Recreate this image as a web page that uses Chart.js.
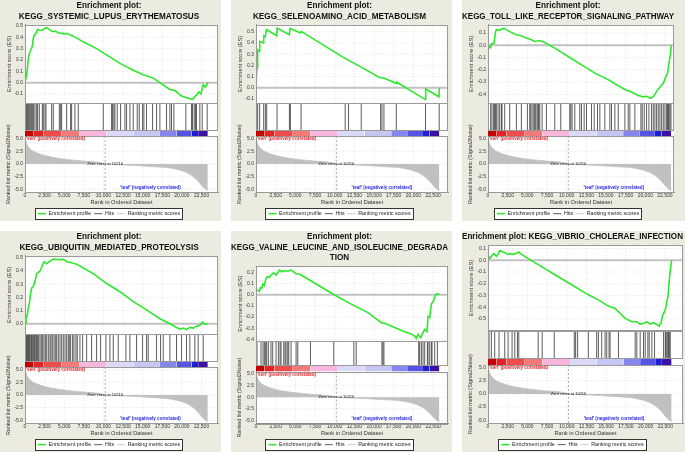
<!DOCTYPE html>
<html><head><meta charset="utf-8">
<script src="https://cdn.jsdelivr.net/npm/chart.js@4.4.1/dist/chart.umd.min.js"></script>
<style>
html,body{margin:0;padding:0;background:#fff;}
body{width:685px;height:452px;position:relative;overflow:hidden;}
.panel{position:absolute;background:#ecebe0;}
canvas{display:block;}
</style></head><body>
<div class="panel" style="left:0px;top:0px;width:221px;height:221px"><canvas id="c1" width="221" height="221"></canvas></div>
<div class="panel" style="left:231px;top:0px;width:221px;height:221px"><canvas id="c2" width="221" height="221"></canvas></div>
<div class="panel" style="left:462px;top:0px;width:223px;height:221px"><canvas id="c3" width="223" height="221"></canvas></div>
<div class="panel" style="left:0px;top:231px;width:221px;height:221px"><canvas id="c4" width="221" height="221"></canvas></div>
<div class="panel" style="left:231px;top:231px;width:221px;height:221px"><canvas id="c5" width="221" height="221"></canvas></div>
<div class="panel" style="left:462px;top:231px;width:223px;height:221px"><canvas id="c6" width="223" height="221"></canvas></div>
<script>
// ---------- shared data ----------
const rankTicks = [0,2500,5000,7500,10000,12500,15000,17500,20000,22500];
const metricTicks = [-5,-2.5,0,2.5,5];
const metricRank  = [0,80,212,400,637,1061,1910,3184,5306,7429,9551,10216,11674,13796,15919,18041,19314,20376,21225,21862,22499,22923,23220,23300];
const metricValue = [5.4,4.7,4.0,3.4,3.0,2.5,1.95,1.4,0.9,0.56,0.28,0,-0.14,-0.28,-0.5,-0.7,-1.05,-1.54,-2.24,-3.08,-4.2,-4.9,-5.2,-5.2];
const barEdges  = [0,1061,2335,4670,6920,10400,13800,17190,19310,21220,22070,23300];
const barColors = ['#c40000','#e42424','#ee4c4c','#f47a7a','#f8b6dc','#dadaf8','#c6c6f4','#8686f0','#5454e4','#1e1ed2','#3a10a6'];
const legendLabels = ['Enrichment profile','Hits','Ranking metric scores'];
const posLabel = "'sen' (positively correlated)";
const negLabel = "'teaf' (negatively correlated)";
const zeroCross = 10216;
const zeroLabel = 'Zero cross at 10216';

// ---------- per-set data ----------
const lupusRank = [0,130,300,420,550,760,930,1060,1190,1400,1610,1910,2250,2550,2760,3180,3520,3820,4240,5090,5300,6150,7430,9130,10400,12100,13800,15070,16340,18460,19100,19950,20800,21350,21860,22160,22410,22710,23000,23300];
const lupusES   = [0.01,0.04,0.12,0.21,0.26,0.29,0.32,0.39,0.42,0.435,0.47,0.46,0.465,0.48,0.485,0.465,0.45,0.455,0.44,0.43,0.435,0.41,0.36,0.30,0.245,0.17,0.11,0.07,0.04,-0.06,-0.07,-0.118,-0.138,-0.147,-0.109,-0.08,-0.10,-0.02,-0.04,0.0];
const lupusHits = [127,212,340,467,552,722,849,976,1104,1273,1486,1613,1825,2207,2335,2547,2674,3396,3608,4372,4542,4669,5306,5816,5943,6367,6792,9976,11037,11164,11334,11461,11759,12183,12735,12947,13372,13796,14306,14560,14985,15155,15494,16258,16768,17192,18041,18466,18678,18975,20504,21225,21353,21565,21735,21862,22287,22584,23221];
const lupusTicks = [-0.1,0,0.1,0.2,0.3,0.4,0.5];

const selenoRank = [0,40,130,210,440,470,960,980,1180,1320,2640,2700,4220,4330,5650,5740,11250,13370,15750,16000,16300,17820,17900,21520,21560,23250,23300];
const selenoES   = [0,0.09,0.18,0.34,0.325,0.415,0.40,0.465,0.455,0.52,0.465,0.535,0.475,0.53,0.49,0.505,0.265,0.185,0.09,0.09,0.085,0.04,0.05,-0.105,-0.01,-0.08,0.0];
const selenoHits = [0,85,212,467,976,1189,1358,2674,4245,4372,5731,11334,11759,13372,15834,16004,16258,17829,21540,23280];
const selenoTicks = [-0.1,0,0.1,0.2,0.3,0.4,0.5];

const tollRank = [0,85,340,425,764,934,1060,1486,1700,2040,2200,2760,3610,4245,4880,5520,5940,6580,7220,8490,10190,11890,13580,15280,16560,17400,18250,19100,19740,20160,20590,21010,21440,21860,22290,22580,22840,23010,23220,23300];
const tollES   = [0,-0.01,-0.02,0.01,0.015,0.1,0.125,0.12,0.13,0.138,0.13,0.11,0.084,0.076,0.057,0.043,0.03,0.038,0.022,-0.024,-0.092,-0.16,-0.227,-0.28,-0.33,-0.36,-0.38,-0.408,-0.42,-0.415,-0.43,-0.42,-0.375,-0.34,-0.31,-0.26,-0.227,-0.146,-0.065,0.0];
const tollHits = [340,509,722,849,934,1061,1274,1486,1698,1783,2123,2759,3608,4245,5009,5306,5434,5603,5816,5943,6070,6240,6368,6452,6580,6877,7429,8490,9254,10400,10528,10697,11037,11674,11886,12226,12523,13160,13499,13924,14221,14858,15494,15707,16131,16556,17405,17829,18041,18678,19442,19612,19867,20164,20461,20801,21013,21225,21437,21650,21862,22074,22286,22499,22711,22838,22923,23008,23135,23263];
const tollTicks = [-0.4,-0.3,-0.2,-0.1,0,0.1];

const ubiqRank = [0,127,297,424,552,722,849,1061,1273,1486,1825,2000,2250,2460,2760,3180,3610,4460,4880,5310,5940,6580,7220,8700,10400,12100,13800,15490,17190,18470,19310,19740,20160,20590,21010,21440,21860,22290,22630,22920,23300];
const ubiqES   = [0,0.04,0.07,0.12,0.155,0.23,0.27,0.285,0.32,0.38,0.395,0.41,0.45,0.47,0.455,0.475,0.49,0.485,0.488,0.47,0.462,0.452,0.43,0.38,0.305,0.243,0.168,0.105,0.038,0.0,-0.028,-0.04,-0.033,-0.045,-0.028,-0.033,-0.018,-0.012,0.012,-0.003,0.0];
const ubiqHits = [127,212,297,382,467,552,637,764,849,934,1061,1189,1274,1401,1486,1613,1740,1910,2080,2250,2420,2589,2759,2972,3184,3311,3481,3693,3863,4033,4245,4457,4669,4882,5094,5306,5519,5646,5816,6070,6240,6495,6665,7004,7344,7853,8490,9127,9636,10315,10825,11249,11886,12862,13372,14221,14985,15494,15707,16768,17277,17617,18466,19315,19952,20588,21013,21649,22074,22711];
const ubiqTicks = [0,0.1,0.2,0.3,0.4,0.5];

const valineRank = [0,127,424,552,722,849,1061,1189,1400,1700,1910,2250,2550,2760,2970,3270,3610,4030,4460,4880,5090,5520,6580,7850,9980,12100,14220,15920,16340,17620,18890,19740,20160,20380,20590,20930,21220,21440,21730,21860,22070,22290,22580,22790,23050,23300];
const valineES   = [0.05,0.045,0.03,0.065,0.057,0.095,0.08,0.125,0.16,0.155,0.176,0.195,0.176,0.195,0.22,0.205,0.215,0.21,0.22,0.2,0.185,0.185,0.14,0.087,-0.003,-0.084,-0.16,-0.25,-0.255,-0.293,-0.33,-0.35,-0.37,-0.39,-0.353,-0.383,-0.338,-0.31,-0.33,-0.195,-0.205,-0.084,-0.054,-0.003,0.01,0.0];
const valineHits = [127,637,891,1061,1231,1358,1571,1910,2123,2547,2844,3056,3184,3523,3693,3821,4033,4160,4457,5094,5306,6919,9891,12438,12735,16004,16131,16258,20673,20801,21013,21225,21437,21777,21862,22074,22286,22371,22711,23050];
const valineTicks = [-0.4,-0.3,-0.2,-0.1,0,0.1,0.2];

const vibrioRank = [0,127,300,425,637,764,1060,1274,1486,1698,2123,2547,2759,3056,3396,3736,3905,4245,6368,8490,10613,12735,14009,15282,16131,17405,18254,18890,19315,19740,20164,20588,21013,21437,21734,21989,22159,22414,22584,22838,23050,23300];
const vibrioES   = [0,0.03,0.02,0.03,0.05,0.057,0.034,0.05,0.083,0.077,0.063,0.05,0.057,0.05,0.054,0.063,0.07,0.05,-0.037,-0.123,-0.208,-0.294,-0.337,-0.39,-0.41,-0.494,-0.523,-0.523,-0.543,-0.537,-0.523,-0.543,-0.531,-0.546,-0.56,-0.523,-0.466,-0.437,-0.394,-0.309,-0.137,0.0];
const vibrioHits = [127,425,849,1401,2123,2547,3056,3396,3736,3905,6368,6877,8405,10952,11122,11377,12735,13796,14009,14433,14858,15070,15367,15494,16556,18678,18890,19315,19740,19952,20291,20461,20801,21140,22286,22499,22584,22711,22838,22923,23008,23135];
const vibrioTicks = [-0.5,-0.4,-0.3,-0.2,-0.1,0,0.1];

// ---------- panels ----------
const panels = [
  {id:'c1', title:['Enrichment plot:','KEGG_SYSTEMIC_LUPUS_ERYTHEMATOSUS'], rank:lupusRank, es:lupusES, hits:lupusHits, esTicks:lupusTicks, esMin:-0.18, esMax:0.51, w:[78,27,6,56], yw:25, padR:3, xMax:24600},
  {id:'c2', title:['Enrichment plot:','KEGG_SELENOAMINO_ACID_METABOLISM'], rank:selenoRank, es:selenoES, hits:selenoHits, esTicks:selenoTicks, esMin:-0.136, esMax:0.563, w:[78,27,6,56], yw:25, padR:4, xMax:24400},
  {id:'c3', title:['Enrichment plot:','KEGG_TOLL_LIKE_RECEPTOR_SIGNALING_PATHWAY'], rank:tollRank, es:tollES, hits:tollHits, esTicks:tollTicks, esMin:-0.47, esMax:0.165, w:[78,27,6,56], yw:26, padR:11, xMax:23650},
  {id:'c4', title:['Enrichment plot:','KEGG_UBIQUITIN_MEDIATED_PROTEOLYSIS'], rank:ubiqRank, es:ubiqES, hits:ubiqHits, esTicks:ubiqTicks, esMin:-0.078, esMax:0.515, w:[78,27,6,56], yw:25, padR:3, xMax:24600},
  {id:'c5', title:['Enrichment plot:','KEGG_VALINE_LEUCINE_AND_ISOLEUCINE_DEGRADA','TION'], rank:valineRank, es:valineES, hits:valineHits, esTicks:valineTicks, esMin:-0.415, esMax:0.254, w:[74,24,6,51], yw:25, padR:4, xMax:24400},
  {id:'c6', title:['Enrichment plot: KEGG_VIBRIO_CHOLERAE_INFECTION'], rank:vibrioRank, es:vibrioES, hits:vibrioHits, esTicks:vibrioTicks, esMin:-0.6, esMax:0.126, w:[85,27,7,58], yw:26, padR:2, xMax:24750}
];

const FONT = '"Liberation Sans", Arial, sans-serif';

const gsea = {
  id:'gsea',
  beforeDraw(chart, args, o){
    const {ctx, chartArea:a} = chart;
    ctx.save();
    ctx.fillStyle = '#ffffff';
    ctx.fillRect(a.left, a.top, a.right-a.left, a.bottom-a.top);
    const lg = chart.legend;
    if (lg && lg.legendHitBoxes && lg.legendHitBoxes.length){
      const hb = lg.legendHitBoxes;
      const l = Math.round(Math.min(...hb.map(h=>h.left)) - 3);
      const r = Math.round(Math.max(...hb.map(h=>h.left+h.width)) + 3);
      const t = Math.round(lg.top), b = Math.round(lg.bottom) - 1;
      ctx.fillRect(l, t, r-l, b-t);
      ctx.strokeStyle = '#333'; ctx.lineWidth = 1;
      ctx.strokeRect(l+0.5, t+0.5, r-l-1, b-t-1);
    }
    ctx.restore();
  },
  beforeDatasetsDraw(chart, args, o){
    const {ctx, chartArea:a, scales:{x, yES, yMet}} = chart;
    const seg = (x1,y1,x2,y2)=>{ctx.beginPath();ctx.moveTo(x1,y1);ctx.lineTo(x2,y2);ctx.stroke();};
    ctx.save();
    ctx.strokeStyle = '#e2e2e2'; ctx.lineWidth = 0.7; ctx.setLineDash([1.5,1.5]);
    for (const v of rankTicks){
      const px = x.getPixelForValue(v);
      seg(px, yES.top, px, yES.bottom);
      seg(px, yMet.top, px, yMet.bottom);
    }
    for (const v of o.esTicks){ const py = yES.getPixelForValue(v); seg(a.left, py, a.right, py); }
    for (const v of metricTicks){ const py = yMet.getPixelForValue(v); seg(a.left, py, a.right, py); }
    ctx.setLineDash([]);
    ctx.strokeStyle = '#c2c2c2'; ctx.lineWidth = 2;
    const z = yES.getPixelForValue(0);
    seg(a.left, z, a.right, z);
    ctx.restore();
  },
  afterDatasetsDraw(chart, args, o){
    const {ctx, chartArea:a, scales:{x, yES, yHit, yMet}} = chart;
    ctx.save();
    ctx.strokeStyle = '#777'; ctx.lineWidth = 0.6; ctx.setLineDash([2,2]);
    const zx = x.getPixelForValue(zeroCross);
    ctx.beginPath(); ctx.moveTo(zx, yMet.top); ctx.lineTo(zx, yMet.bottom); ctx.stroke();
    ctx.setLineDash([]);
    ctx.strokeStyle = '#9a9a9a'; ctx.lineWidth = 1;
    const fr = (t,b)=>ctx.strokeRect(Math.round(a.left)+0.5, Math.round(t)+0.5, Math.round(a.right-a.left)-1, Math.round(b-t)-1);
    fr(yES.top, yES.bottom+1);
    fr(yHit.top, yHit.bottom+1);
    fr(yMet.top, yMet.bottom+1);
    ctx.font = 'bold 4.6px ' + FONT;
    ctx.textBaseline = 'top'; ctx.textAlign = 'left';
    ctx.fillStyle = '#e8262a';
    ctx.fillText(posLabel, a.left + 1, yMet.top + 0.5);
    ctx.font = '4px ' + FONT;
    ctx.fillStyle = '#111'; ctx.textAlign = 'center'; ctx.textBaseline = 'middle';
    ctx.fillText(zeroLabel, zx, yMet.getPixelForValue(0));
    ctx.font = 'bold 4.6px ' + FONT;
    ctx.fillStyle = '#2a2ae6';
    ctx.fillText(negLabel, x.getPixelForValue(16000), yMet.getPixelForValue(-4.7));
    ctx.restore();
  },
  afterDraw(chart, args, o){
    const {ctx, scales:{yES, yMet}} = chart;
    ctx.save();
    ctx.translate(yES.left + 9, (yMet.top + yMet.bottom)/2);
    ctx.rotate(-Math.PI/2);
    ctx.font = '5.4px ' + FONT; ctx.fillStyle = '#333';
    ctx.textAlign = 'center'; ctx.textBaseline = 'middle';
    ctx.fillText('Ranked list metric (Signal2Noise)', 0, 0);
    ctx.restore();
  }
};

function yAxis(p, weight, extra){
  return Object.assign({
    type:'linear', position:'left', stack:'g', stackWeight:weight,
    afterFit: s => { s.width = p.yw; },
    grid:{display:false, drawTicks:false},
    border:{display:true, color:'#8a8a8a'},
    ticks:{display:false}
  }, extra);
}

function makeChart(p){
  const hitData = [];
  p.hits.forEach(r => { hitData.push({x:r,y:0},{x:r,y:1},{x:r,y:null}); });
  const esData = p.rank.map((r,i)=>({x:r, y:p.es[i]}));
  const metData = metricRank.map((r,i)=>({x:r, y:metricValue[i]}));
  const bars = barColors.map((c,i)=>({
    label:'bar'+i, type:'line', yAxisID:'yBar',
    data:[{x:barEdges[i],y:1},{x:barEdges[i+1],y:1}],
    borderColor:'rgba(0,0,0,0)', borderWidth:0.01, backgroundColor:c, fill:'origin', pointRadius:0
  }));
  const tickFont = {size:5, family:FONT};
  new Chart(document.getElementById(p.id), {
    type:'line',
    data:{datasets:[
      {label:'Enrichment profile', yAxisID:'yES', data:esData, borderColor:'#2de82d', backgroundColor:'#2de82d', borderWidth:1.6, pointRadius:0, fill:false},
      {label:'Hits', yAxisID:'yHit', data:hitData, borderColor:'#333333', backgroundColor:'#333333', borderWidth:0.8, pointRadius:0, spanGaps:false, fill:false},
      ...bars,
      {label:'Ranking metric scores', yAxisID:'yMet', data:metData, borderColor:'#c0c0c0', backgroundColor:'#c0c0c0', borderWidth:0.8, pointRadius:0, fill:'origin', cubicInterpolationMode:'monotone'}
    ]},
    options:{
      responsive:false, animation:false, devicePixelRatio:1,
      events:[],
      layout:{padding:{left:0, right:p.padR, top:0, bottom:0}},
      scales:{
        x:{type:'linear', position:'bottom', min:0, max:p.xMax,
           afterBuildTicks: s => { s.ticks = rankTicks.map(v=>({value:v})); },
           ticks:{font:tickFont, color:'#333', padding:0.5, maxRotation:0, autoSkip:false, callback:v=>v.toLocaleString('en-US')},
           grid:{display:false, drawTicks:false}, border:{display:true, color:'#8a8a8a'},
           title:{display:true, text:'Rank in Ordered Dataset', font:{size:5.6, family:FONT}, color:'#333', padding:{top:0, bottom:2}}},
        yMet: yAxis(p, p.w[3], {min:-5.6, max:5.5,
           afterBuildTicks: s => { s.ticks = metricTicks.map(v=>({value:v})); },
           ticks:{display:true, autoSkip:false, font:tickFont, color:'#333', padding:2, callback:v=>v.toFixed(1)}}),
        yBar: yAxis(p, p.w[2], {min:0, max:1, border:{display:false}}),
        yHit: yAxis(p, p.w[1], {min:0, max:1}),
        yES: yAxis(p, p.w[0], {min:p.esMin, max:p.esMax,
           afterBuildTicks: s => { s.ticks = p.esTicks.map(v=>({value:v})); },
           ticks:{display:true, autoSkip:false, font:tickFont, color:'#333', padding:2, callback:v=>v.toFixed(1)},
           title:{display:true, text:'Enrichment score (ES)', font:{size:5.6, family:FONT}, color:'#333', padding:{top:5.6, bottom:0}}})
      },
      plugins:{
        title:{display:true, text:p.title, color:'#111', font:{size:8.2, weight:'bold', family:FONT, lineHeight:1.27}, padding:{top:1, bottom:3}},
        legend:{display:true, position:'bottom', maxHeight:13,
          labels:{filter: it => legendLabels.includes(it.text), usePointStyle:true, pointStyle:'line', pointStyleWidth:8, boxHeight:5, padding:3, color:'#222', font:{size:5.3, family:FONT}}},
        tooltip:{enabled:false},
        gsea:{esTicks:p.esTicks}
      }
    },
    plugins:[gsea]
  });
}
panels.forEach(makeChart);
</script>
</body></html>
